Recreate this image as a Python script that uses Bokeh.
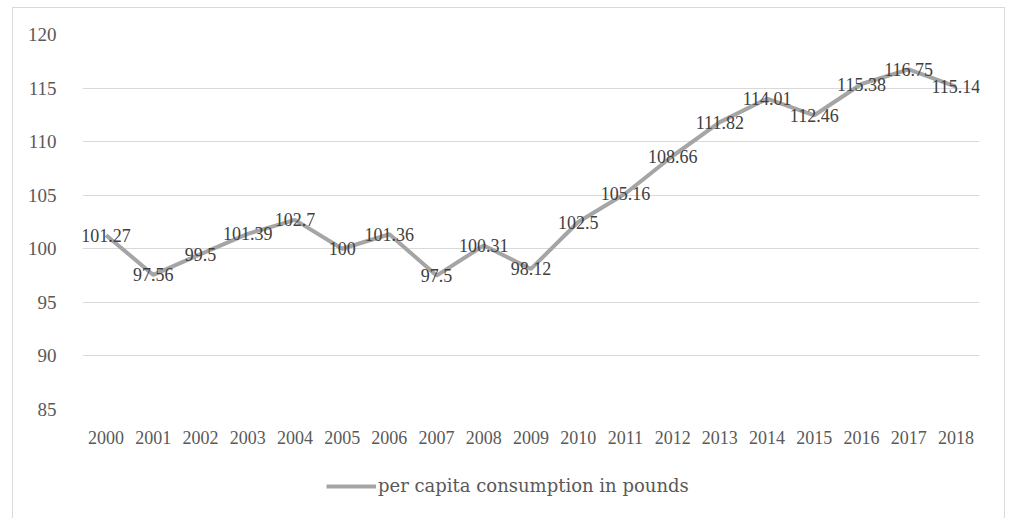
from bokeh.plotting import figure
from bokeh.layouts import column
from bokeh.models import ColumnDataSource, Legend, LegendItem, FixedTicker, Range1d, FactorRange
from bokeh.core.properties import value
from bokeh.embed import file_html
from bokeh.resources import INLINE

years = ["2000", "2001", "2002", "2003", "2004", "2005", "2006", "2007", "2008", "2009",
         "2010", "2011", "2012", "2013", "2014", "2015", "2016", "2017", "2018"]
consumption = [101.27, 97.56, 99.5, 101.39, 102.7, 100, 101.36, 97.5, 100.31, 98.12,
               102.5, 105.16, 108.66, 111.82, 114.01, 112.46, 115.38, 116.75, 115.14]
y_ticks = [85, 90, 95, 100, 105, 110, 115, 120]
series_name = "per capita consumption in pounds"

labels = [("%g" % v) for v in consumption]
src = ColumnDataSource(dict(x=years, y=consumption, label=labels))

FONT = "Liberation Serif"
LEGEND_FONT = "DejaVu Serif"
LINE_COLOR = "#a5a5a5"

p = figure(x_range=years, y_range=(85, 120), width=991, height=446,
           output_backend="svg", toolbar_location=None,
           min_border_left=69, min_border_right=25, min_border_top=26, min_border_bottom=45)
p.outline_line_color = None
p.background_fill_color = "white"

r = p.line("x", "y", source=src, line_color=LINE_COLOR, line_width=4)
p.text("x", "y", text="label", source=src, text_align="center", text_baseline="middle",
       text_font=value(FONT), text_font_size="18px", text_color="#404040")

p.xgrid.grid_line_color = None
p.ygrid.grid_line_color = "#d9d9d9"
p.ygrid.grid_line_width = 1
p.yaxis.ticker = FixedTicker(ticks=y_ticks)

for ax in (p.xaxis[0], p.yaxis[0]):
    ax.axis_line_color = None
    ax.major_tick_line_color = None
    ax.minor_tick_line_color = None
    ax.major_label_text_font = FONT
    ax.major_label_text_color = "#595959"
p.yaxis.major_label_text_font_size = "19px"
p.xaxis.major_label_text_font_size = "18px"
p.yaxis.major_label_standoff = 20
p.xaxis.major_label_standoff = 15

# legend strip below the chart (same series, kept out of view; only its legend shows)
lg = figure(width=991, height=64, output_backend="svg", toolbar_location=None,
            x_range=FactorRange(*years), y_range=Range1d(0, 1),
            x_axis_location=None, y_axis_location=None,
            min_border_left=0, min_border_right=0, min_border_top=0, min_border_bottom=0)
lg.grid.grid_line_color = None
lg.outline_line_color = None
lr = lg.line("x", "y", source=src, line_color=LINE_COLOR, line_width=4)
legend = Legend(items=[LegendItem(label=series_name, renderers=[lr])],
                location=(244, 22), orientation="horizontal",
                label_text_font=LEGEND_FONT, label_text_font_size="18px", label_text_color="#595959",
                glyph_width=50, label_standoff=2, border_line_color=None,
                margin=0, padding=6, background_fill_alpha=0)
lg.add_layout(legend, "center")

layout = column(p, lg, spacing=0)
layout.margin = (7, 0, 0, 12)
layout.styles = {"border": "1px solid #d9d9d9"}

open("out.html", "w").write(file_html(layout, INLINE))
